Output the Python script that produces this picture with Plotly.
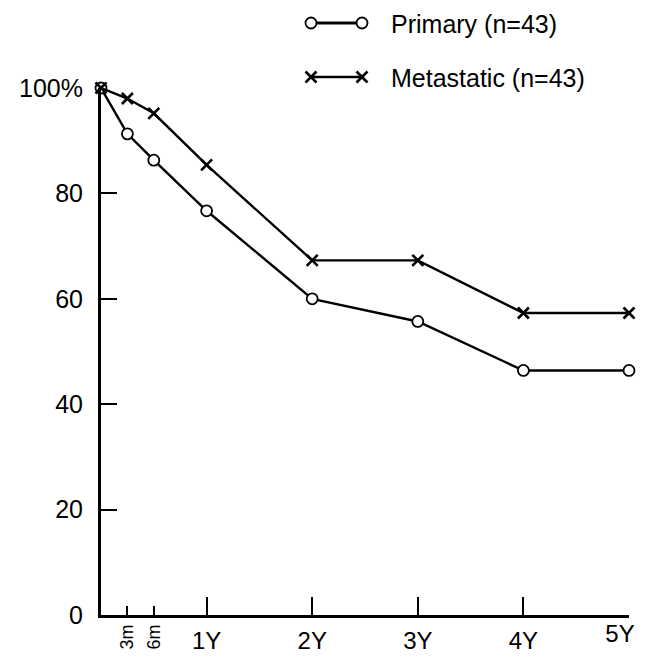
import plotly.graph_objects as go

# ---- data ----
years = [0, 0.25, 0.5, 1, 2, 3, 4, 5]
primary = [100, 91.3, 86.3, 76.7, 60.0, 55.7, 46.4, 46.4]
metastatic = [100, 98.0, 95.2, 85.4, 67.3, 67.3, 57.3, 57.3]
primary_name = "Primary (n=43)"
metastatic_name = "Metastatic (n=43)"
year_ticks = [1, 2, 3, 4, 5]
year_labels = ["1Y", "2Y", "3Y", "4Y", "5Y"]
month_ticks = [0.25, 0.5]
month_labels = ["3m", "6m"]
y_ticks = [0, 20, 40, 60, 80, 100]
y_labels = ["0", "20", "40", "60", "80", "100%"]

# the page adds an 8px body margin, so the figure is 8px smaller
# and every pixel position is shifted by -8
OFF = 8
W, H = 645 - OFF, 660 - OFF
FONT = "Liberation Sans, Arial, Helvetica, sans-serif"

# plot area in (page) pixels
x0_px, x1_px = 101 - OFF, 629 - OFF
y_top_px, y_bot_px = 88 - OFF, 615 - OFF

fig = go.Figure()

circle_marker = dict(symbol="circle", size=11, color="white",
                     line=dict(color="black", width=1.8))
x_marker = dict(symbol="x-thin", size=11,
                line=dict(color="black", width=2.6), color="black")

fig.add_trace(go.Scatter(x=years, y=primary, mode="lines+markers",
                         line=dict(color="black", width=2.4),
                         marker=circle_marker, cliponaxis=False,
                         showlegend=False, xaxis="x", yaxis="y"))
fig.add_trace(go.Scatter(x=years, y=metastatic, mode="lines+markers",
                         line=dict(color="black", width=2.4),
                         marker=x_marker, cliponaxis=False,
                         showlegend=False, xaxis="x", yaxis="y"))

# invisible helper traces so the overlay tick axes render
fig.add_trace(go.Scatter(x=[0.25], y=[0], mode="markers", opacity=0,
                         showlegend=False, hoverinfo="skip",
                         xaxis="x3", yaxis="y"))
fig.add_trace(go.Scatter(x=[5], y=[0], mode="markers", opacity=0,
                         showlegend=False, hoverinfo="skip",
                         xaxis="x4", yaxis="y"))

# custom legend samples on a pixel-coordinate overlay axis
leg_x = [311 - OFF, 362 - OFF]
leg_y1, leg_y2 = 23 - OFF, 77 - OFF
fig.add_trace(go.Scatter(x=leg_x, y=[leg_y1, leg_y1], mode="lines+markers",
                         line=dict(color="black", width=3),
                         marker=circle_marker, cliponaxis=False,
                         showlegend=False, xaxis="x2", yaxis="y2"))
fig.add_trace(go.Scatter(x=leg_x, y=[leg_y2, leg_y2], mode="lines+markers",
                         line=dict(color="black", width=2.4),
                         marker=x_marker, cliponaxis=False,
                         showlegend=False, xaxis="x2", yaxis="y2"))

fig.add_annotation(x=390 - OFF, y=leg_y1 + 1, xref="x2", yref="y2",
                   text=primary_name, showarrow=False, xanchor="left",
                   yanchor="middle", borderpad=0,
                   font=dict(family=FONT, size=25, color="black"))
fig.add_annotation(x=390 - OFF, y=leg_y2 + 1, xref="x2", yref="y2",
                   text=metastatic_name, showarrow=False, xanchor="left",
                   yanchor="middle", borderpad=0,
                   font=dict(family=FONT, size=25, color="black"))

xdom = [x0_px / W, x1_px / W]
ydom = [(H - y_bot_px) / H, (H - y_top_px) / H]

# all year labels except the last on the main axis; the last one on an
# overlay axis so it can be nudged inward and not be clipped at the edge
main_labels = year_labels[:-1] + [""]

fig.update_layout(
    width=W, height=H, autosize=False,
    margin=dict(l=0, r=0, t=0, b=0, pad=0),
    paper_bgcolor="white", plot_bgcolor="rgba(0,0,0,0)",
    font=dict(family=FONT, color="black"),
    showlegend=False,
    xaxis=dict(domain=xdom, range=[0, 5], tickvals=year_ticks,
               ticktext=main_labels, ticks="inside", ticklen=18,
               tickwidth=1.5, tickcolor="black", showline=True,
               linewidth=3, linecolor="black", showgrid=False,
               zeroline=False, tickfont=dict(family=FONT, size=24),
               ticklabelstandoff=2, anchor="y", automargin=False),
    xaxis3=dict(domain=xdom, range=[0, 5], overlaying="x", side="bottom",
                tickvals=month_ticks, ticktext=month_labels,
                ticks="inside", ticklen=9, tickwidth=1.5,
                tickcolor="black", tickangle=-90, showline=False,
                showgrid=False, zeroline=False,
                tickfont=dict(family=FONT, size=18),
                ticklabelstandoff=5, anchor="y", automargin=False),
    xaxis4=dict(domain=xdom, range=[0, 5], overlaying="x", side="bottom",
                tickvals=year_ticks[-1:], ticktext=year_labels[-1:],
                ticks="", showline=False, showgrid=False, zeroline=False,
                tickfont=dict(family=FONT, size=24),
                ticklabelstandoff=2, ticklabelshift=-9,
                anchor="y", automargin=False),
    yaxis=dict(domain=ydom, range=[0, 100], tickvals=y_ticks,
               ticktext=y_labels, ticks="inside", ticklen=16,
               tickwidth=1.5, tickcolor="black", showline=True,
               linewidth=3, linecolor="black", showgrid=False,
               zeroline=False, tickfont=dict(family=FONT, size=25),
               ticklabelstandoff=10, anchor="x", automargin=False),
    xaxis2=dict(domain=[0, 1], range=[0, W], visible=False,
                anchor="y2", fixedrange=True),
    yaxis2=dict(domain=[0, 1], range=[H, 0], visible=False,
                anchor="x2", fixedrange=True),
)

fig.write_html("out.html")
